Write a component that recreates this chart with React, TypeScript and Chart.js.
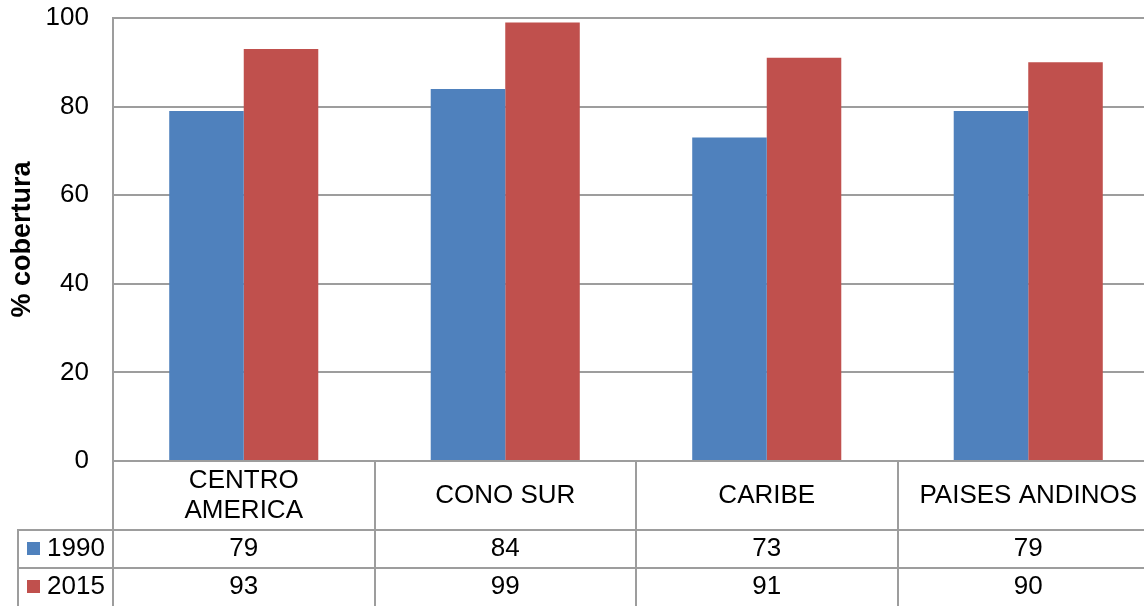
import React, { useEffect, useRef } from 'react';
import { Chart, registerables } from 'chart.js';

Chart.register(...registerables);

const categories: (string | string[])[] = [['CENTRO', 'AMERICA'], 'CONO SUR', 'CARIBE', 'PAISES ANDINOS'];
const seriesNames = ['1990', '2015'];
const values1990 = [79, 84, 73, 79];
const values2015 = [93, 99, 91, 90];
const yTickMin = 0;
const yTickMax = 100;
const yTickStep = 20;
const seriesColors = ['#4F81BD', '#C0504D'];
const yTitle = '% cobertura';

const FONT = "'Liberation Sans', Arial, sans-serif";
const GRID = '#9d9d9d';
const LINE_W = 2;
const CANVAS_W = 1170;
const CANVAS_H = 606;

const dataTablePlugin = {
  id: 'dataTable',
  afterDraw(chart: any) {
    const { ctx, chartArea, scales } = chart;
    const xs = scales.x;
    const n = chart.data.labels.length;
    const catW = (chartArea.right - chartArea.left) / n;
    const bottom = chartArea.bottom;
    const H = chart.height;
    const catRowH = 69;
    const rowH = 38;
    const legendLeft = 18;
    const datasets = chart.data.datasets;
    ctx.save();
    ctx.strokeStyle = GRID;
    ctx.lineWidth = LINE_W;
    ctx.beginPath();
    for (let i = 0; i <= n; i++) {
      const px = Math.round(chartArea.left + i * catW);
      ctx.moveTo(px, bottom);
      ctx.lineTo(px, H);
    }
    for (let r = 0; r < datasets.length; r++) {
      const py = Math.round(bottom + catRowH + r * rowH);
      ctx.moveTo(legendLeft - 1, py);
      ctx.lineTo(chart.width, py);
    }
    ctx.moveTo(legendLeft, Math.round(bottom + catRowH));
    ctx.lineTo(legendLeft, H);
    ctx.stroke();

    ctx.font = `26px ${FONT}`;
    ctx.textBaseline = 'middle';
    datasets.forEach((ds: any, r: number) => {
      const cy = bottom + catRowH + r * rowH + rowH / 2;
      ctx.fillStyle = ds.backgroundColor;
      ctx.fillRect(27, Math.round(cy - 7), 13, 13);
      ctx.fillStyle = '#000';
      ctx.textAlign = 'left';
      ctx.fillText(ds.label, 47, cy);
      ctx.textAlign = 'center';
      ds.data.forEach((v: number, i: number) => {
        ctx.fillText(String(v), xs.getPixelForValue(i), cy);
      });
    });
    ctx.restore();
  },
};

export default function App() {
  const ref = useRef<HTMLCanvasElement>(null);
  useEffect(() => {
    if (!ref.current) return;
    Chart.defaults.font.family = FONT;
    Chart.defaults.color = '#000';
    const chart = new Chart(ref.current, {
      type: 'bar',
      data: {
        labels: categories as any,
        datasets: [
          { label: seriesNames[0], data: values1990, backgroundColor: seriesColors[0], categoryPercentage: 0.57, barPercentage: 1 },
          { label: seriesNames[1], data: values2015, backgroundColor: seriesColors[1], categoryPercentage: 0.57, barPercentage: 1 },
        ],
      },
      options: {
        responsive: false,
        animation: false,
        devicePixelRatio: 1,
        layout: { padding: { top: 18, right: CANVAS_W - 1159, left: 0, bottom: 0 } },
        plugins: { legend: { display: false }, tooltip: { enabled: false } },
        scales: {
          x: {
            offset: true,
            grid: { display: false, drawTicks: false },
            border: { display: true, color: GRID, width: LINE_W },
            ticks: {
              font: { size: 26, lineHeight: 1.154 },
              color: '#000',
              maxRotation: 0,
              minRotation: 0,
              autoSkip: false,
              crossAlign: 'center',
              padding: 20,
            },
            afterFit: (scale: any) => {
              scale.height = CANVAS_H - 461;
              scale.paddingLeft = 0;
              scale.paddingRight = 0;
            },
          },
          y: {
            min: yTickMin,
            max: yTickMax,
            ticks: { stepSize: yTickStep, font: { size: 26 }, color: '#000', padding: 24 },
            grid: { color: GRID, drawTicks: false, lineWidth: LINE_W },
            border: { display: true, color: GRID, width: LINE_W },
            title: {
              display: true,
              text: yTitle,
              font: { size: 27, weight: 'bold', lineHeight: 1.2 },
              color: '#000',
              padding: { top: 6, bottom: 0 },
            },
            afterFit: (scale: any) => {
              scale.width = 113;
              scale.paddingTop = 0;
              scale.paddingBottom = 0;
            },
          },
        },
      },
      plugins: [dataTablePlugin],
    } as any);
    return () => chart.destroy();
  }, []);
  return (
    <div style={{ position: 'fixed', left: 0, top: 0, width: 1144, height: 606, overflow: 'hidden', background: '#fff' }}>
      <canvas ref={ref} width={CANVAS_W} height={CANVAS_H} style={{ width: CANVAS_W, height: CANVAS_H, display: 'block' }} />
    </div>
  );
}
